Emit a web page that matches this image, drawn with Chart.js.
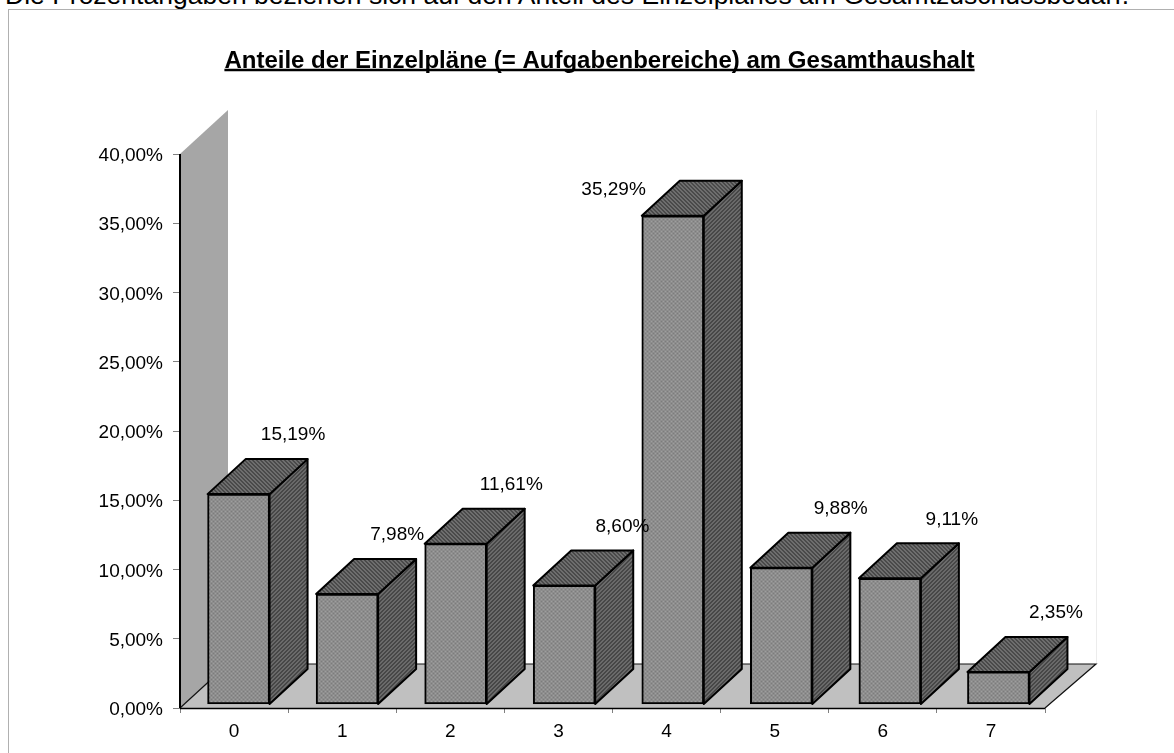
<!DOCTYPE html>
<html><head><meta charset="utf-8">
<style>
html,body{margin:0;padding:0;background:#fff;overflow:hidden}
#note{position:absolute;left:5px;top:-20px;font:26.5px/30px "Liberation Sans",Arial,sans-serif;color:#000;white-space:nowrap}
#frame{position:absolute;left:8px;top:9px;width:1300px;height:900px;border:1px solid #b0b0b0;box-sizing:border-box}
#wrap{position:absolute;left:0;top:0;width:1174px;height:753px}
</style>
<script src="https://cdn.jsdelivr.net/npm/chart.js@4"></script>
</head><body>
<div id="note">Die Prozentangaben beziehen sich auf den Anteil des Einzelplanes am Gesamtzuschussbedarf.</div>
<div id="frame"></div>
<div id="wrap"><canvas id="c" width="1174" height="753"></canvas></div>
<script>
const categories = ['0','1','2','3','4','5','6','7'];
const shares = [15.19, 7.98, 11.61, 8.60, 35.29, 9.88, 9.11, 2.35];
const titleText = 'Anteile der Einzelpläne (= Aufgabenbereiche) am Gesamthaushalt';
const FONT = '"Liberation Sans", Arial, sans-serif';
const de = v => v.toFixed(2).replace('.', ',') + '%';

const WALL_DX = 48, WALL_DY = 44;   // depth of the floor / wall
const BAR_DX = 38, BAR_DY = 35;     // depth of a bar
const INSET_X = 4.5, INSET_Y = 3.5; // bars stand slightly inside the floor
const BAR_DRIFT = 0.43;             // bars are spaced slightly wider than the axis ticks

function pattern(size, dark, light, fn){
  const p = document.createElement('canvas'); p.width = p.height = size;
  const g = p.getContext('2d');
  for(let y=0;y<size;y++) for(let x=0;x<size;x++){
    g.fillStyle = fn(x,y) ? dark : light; g.fillRect(x,y,1,1);
  }
  return document.createElement('canvas').getContext('2d').createPattern(p,'repeat');
}
const frontFill = pattern(4,'#7c7c7c','#9e9e9e',(x,y)=>((x>>1)+(y>>1))%2===0);
const sideFill  = pattern(4,'#474747','#6a6a6a',(x,y)=>((x+y)%4)<2);
const topFill   = pattern(4,'#4a4a4a','#6e6e6e',(x,y)=>((x-y+8)%4)<2);

function poly(ctx, pts, fill, stroke, lw){
  ctx.beginPath();
  pts.forEach((p,i)=> i?ctx.lineTo(p[0],p[1]):ctx.moveTo(p[0],p[1]));
  ctx.closePath();
  if(fill){ctx.fillStyle=fill;ctx.fill();}
  if(stroke){ctx.strokeStyle=stroke;ctx.lineWidth=lw;ctx.lineJoin='round';ctx.stroke();}
}

const scene = {
  id:'scene',
  afterLayout(chart){
    // the title is centred a little to the right of the canvas centre
    chart.titleBlock.left = 154;
  },
  afterDatasetsUpdate(chart){
    chart.getDatasetMeta(0).data.forEach((b,i)=>{ b.x += i*BAR_DRIFT; });
  },
  beforeDatasetsDraw(chart){
    const {ctx, chartArea:a} = chart;
    ctx.save();
    ctx.strokeStyle='#ececec';ctx.lineWidth=1;
    ctx.beginPath();ctx.moveTo(a.right+WALL_DX+3.5,a.top-WALL_DY);ctx.lineTo(a.right+WALL_DX+3.5,a.bottom-WALL_DY);ctx.stroke();
    poly(ctx,[[a.left,a.top],[a.left+WALL_DX,a.top-WALL_DY],[a.left+WALL_DX,a.bottom-WALL_DY],[a.left,a.bottom]],'#a6a6a6');
    poly(ctx,[[a.left,a.bottom],[a.left+WALL_DX,a.bottom-WALL_DY],[a.right+WALL_DX+3,a.bottom-WALL_DY],[a.right,a.bottom]],'#c0c0c0');
    ctx.strokeStyle='#111';ctx.lineWidth=1.2;
    ctx.beginPath();
    ctx.moveTo(a.left+WALL_DX,a.bottom-WALL_DY);ctx.lineTo(a.right+WALL_DX+3,a.bottom-WALL_DY);
    ctx.lineTo(a.right,a.bottom);
    ctx.moveTo(a.left,a.bottom);ctx.lineTo(a.left+WALL_DX,a.bottom-WALL_DY);
    ctx.stroke();
    const meta = chart.getDatasetMeta(0);
    meta.data.forEach(b=>{
      const l=b.x-b.width/2+INSET_X, r=b.x+b.width/2+INSET_X, t=b.y-INSET_Y, bo=b.base-INSET_Y;
      poly(ctx,[[r,t],[r+BAR_DX,t-BAR_DY],[r+BAR_DX,bo-BAR_DY],[r,bo]],sideFill,'#000',2);
      poly(ctx,[[l,t],[l+BAR_DX,t-BAR_DY],[r+BAR_DX,t-BAR_DY],[r,t]],topFill,'#000',2);
    });
    ctx.restore();
    ctx.save();
    ctx.translate(INSET_X,-INSET_Y);
  },
  afterDatasetsDraw(chart){
    const {ctx, chartArea:a, scales} = chart;
    ctx.restore();
    ctx.save();
    ctx.strokeStyle='#000';ctx.lineWidth=2;
    ctx.beginPath();ctx.moveTo(a.left,a.top);ctx.lineTo(a.left,a.bottom);ctx.stroke();
    ctx.lineWidth=1.5;
    ctx.beginPath();ctx.moveTo(a.left,a.bottom+0.5);ctx.lineTo(a.right,a.bottom+0.5);ctx.stroke();
    // data labels sit up and to the right of each bar, by hand in the original
    const nudge = [59,55,61,64,-53,66,69,65];
    ctx.fillStyle='#000';ctx.font='19px '+FONT;ctx.textAlign='center';ctx.textBaseline='middle';
    chart.getDatasetMeta(0).data.forEach((b,i)=>{
      const x = scales.x.getPixelForValue(i) + nudge[i];
      const y = b.y - INSET_Y + (nudge[i] < 0 ? -26 : -59);
      ctx.fillText(de(shares[i]),x,y);
    });
    const tb = chart.titleBlock;
    if(tb){
      ctx.font = 'bold 24px '+FONT;
      const w = ctx.measureText(titleText).width, cx=(tb.left+tb.right)/2;
      ctx.strokeStyle='#000';ctx.lineWidth=2.5;
      ctx.beginPath();ctx.moveTo(cx-w/2,70);ctx.lineTo(cx+w/2,70);ctx.stroke();
    }
    ctx.restore();
  }
};

new Chart(document.getElementById('c'),{
  type:'bar',
  data:{labels:categories,datasets:[{
    data:shares,
    backgroundColor:frontFill,
    borderColor:'#000',
    borderWidth:2,
    borderSkipped:false,
    barThickness:62
  }]},
  plugins:[scene],
  options:{
    responsive:false,animation:false,
    layout:{padding:{left:0,right:129,top:0,bottom:0}},
    plugins:{
      legend:{display:false},tooltip:{enabled:false},
      title:{display:true,text:titleText,color:'#000',
        font:{family:FONT,size:24,weight:'bold',lineHeight:1.2},
        padding:{top:46.6,bottom:78.6}}
    },
    scales:{
      x:{
        afterFit(s){s.height=45;},
        grid:{drawOnChartArea:false,drawTicks:true,tickLength:5,color:'#808080'},
        border:{display:false},
        ticks:{color:'#000',font:{family:FONT,size:19},padding:7,maxRotation:0}
      },
      y:{
        min:0,max:40,
        afterFit(s){s.width=180;},
        grid:{drawOnChartArea:false,drawTicks:true,tickLength:7,color:'#808080'},
        border:{display:false},
        ticks:{stepSize:5,color:'#000',font:{family:FONT,size:19},padding:10,labelOffset:2,
          callback:v=>de(v)}
      }
    }
  }
});
</script>
</body></html>
